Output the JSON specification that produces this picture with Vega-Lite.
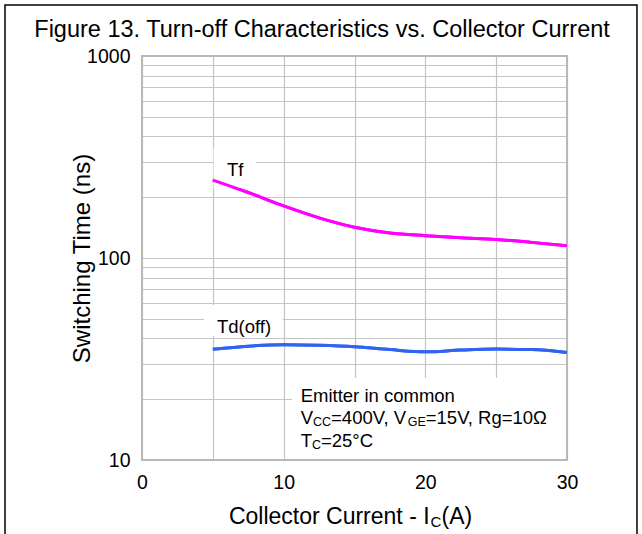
{
  "$schema": "https://vega.github.io/schema/vega-lite/v6.json",
  "width": 425,
  "height": 404,
  "autosize": {"type": "none"},
  "padding": {"left": 142, "top": 56, "right": 75, "bottom": 74},
  "background": "white",
  "config": {"view": {"stroke": null}, "font": "Liberation Sans"},
  "data": {"values": [{}]},
  "datasets": {
    "curves": [
      {"series": "Tf", "ic": 5, "t": 243},
      {"series": "Tf", "ic": 7.5, "t": 211},
      {"series": "Tf", "ic": 10, "t": 181},
      {"series": "Tf", "ic": 12.5, "t": 158},
      {"series": "Tf", "ic": 15, "t": 142},
      {"series": "Tf", "ic": 17.5, "t": 133},
      {"series": "Tf", "ic": 20, "t": 129},
      {"series": "Tf", "ic": 22.5, "t": 126},
      {"series": "Tf", "ic": 25, "t": 123.5},
      {"series": "Tf", "ic": 27.5, "t": 119.5},
      {"series": "Tf", "ic": 30, "t": 115},
      {"series": "Td(off)", "ic": 5, "t": 35.3},
      {"series": "Td(off)", "ic": 7.5, "t": 36.6},
      {"series": "Td(off)", "ic": 10, "t": 37.2},
      {"series": "Td(off)", "ic": 12.5, "t": 37.0},
      {"series": "Td(off)", "ic": 15, "t": 36.4},
      {"series": "Td(off)", "ic": 17.5, "t": 35.2},
      {"series": "Td(off)", "ic": 20, "t": 34.3},
      {"series": "Td(off)", "ic": 22.5, "t": 35.0},
      {"series": "Td(off)", "ic": 25, "t": 35.4},
      {"series": "Td(off)", "ic": 27.5, "t": 35.2},
      {"series": "Td(off)", "ic": 30, "t": 34.1}
    ]
  },
  "layer": [
    {
      "data": {"name": "curves"},
      "mark": {"type": "line", "interpolate": "monotone", "strokeWidth": 3},
      "encoding": {
        "x": {
          "field": "ic", "type": "quantitative",
          "scale": {"domain": [0, 30], "nice": false, "zero": false},
          "axis": {
            "title": null,
            "values": [0, 5, 10, 15, 20, 25, 30],
            "labelExpr": "datum.value % 10 === 0 ? datum.label : ''",
            "grid": true, "gridColor": "#c4c4c4", "gridWidth": 1.2,
            "domain": false, "ticks": false, "tickSize": 0,
            "labelFont": "Liberation Sans", "labelFontSize": 19.5, "labelColor": "black",
            "labelPadding": 13, "labelFlush": false, "labelOverlap": false
          }
        },
        "y": {
          "field": "t", "type": "quantitative",
          "scale": {"type": "log", "domain": [10, 1000], "nice": false},
          "axis": {
            "title": "Switching Time (ns)",
            "titleFont": "Liberation Sans", "titleFontSize": 24, "titleFontWeight": "normal", "titleColor": "black",
            "titlePadding": -8,
            "values": [10, 20, 30, 40, 50, 60, 70, 80, 90, 100, 200, 300, 400, 500, 600, 700, 800, 900, 1000],
            "labelExpr": "(datum.value == 10 || datum.value == 100 || datum.value == 1000) ? '' + datum.value : ''",
            "grid": true, "gridColor": "#c4c4c4", "gridWidth": 1.2,
            "domain": false, "ticks": false, "tickSize": 0,
            "labelFont": "Liberation Sans", "labelFontSize": 19.5, "labelColor": "black",
            "labelPadding": 12, "labelFlush": false, "labelOverlap": false
          }
        },
        "color": {
          "field": "series", "type": "nominal",
          "scale": {"domain": ["Tf", "Td(off)"], "range": ["#ff00ff", "#2f64f2"]},
          "legend": null
        }
      }
    },
    {
      "mark": {"type": "rect", "fill": "white"},
      "encoding": {
        "x": {"datum": 5.05, "type": "quantitative"},
        "x2": {"datum": 8.05},
        "y": {"datum": 222, "type": "quantitative"},
        "y2": {"datum": 350}
      }
    },
    {
      "mark": {"type": "rect", "fill": "white"},
      "encoding": {
        "x": {"datum": 4.38, "type": "quantitative"},
        "x2": {"datum": 9.93},
        "y": {"datum": 41.1, "type": "quantitative"},
        "y2": {"datum": 58.5}
      }
    },
    {
      "mark": {"type": "rect", "fill": "white"},
      "encoding": {
        "x": {"datum": 10.59, "type": "quantitative"},
        "x2": {"datum": 30},
        "y": {"datum": 10, "type": "quantitative"},
        "y2": {"datum": 25.5}
      }
    },
    {
      "mark": {"type": "rect", "filled": false, "stroke": "#b8b8b8", "strokeWidth": 2},
      "encoding": {
        "x": {"datum": 0, "type": "quantitative"},
        "x2": {"datum": 30},
        "y": {"datum": 10, "type": "quantitative"},
        "y2": {"datum": 1000}
      }
    },
    {
      "data": {"name": "curves"},
      "mark": {"type": "line", "interpolate": "monotone", "strokeWidth": 3},
      "encoding": {
        "x": {"field": "ic", "type": "quantitative"},
        "y": {"field": "t", "type": "quantitative"},
        "color": {"field": "series", "type": "nominal", "legend": null}
      }
    },
    {
      "mark": {"type": "text", "text": "Figure 13. Turn-off Characteristics vs. Collector Current", "align": "center", "baseline": "alphabetic", "fontSize": 23.5, "color": "black"},
      "encoding": {"x": {"datum": 12.71, "type": "quantitative"}, "y": {"datum": 1241.7, "type": "quantitative"}}
    },
    {
      "mark": {"type": "text", "text": "Tf", "align": "left", "baseline": "alphabetic", "fontSize": 18.5, "color": "black"},
      "encoding": {"x": {"datum": 6.0, "type": "quantitative"}, "y": {"datum": 254.6, "type": "quantitative"}}
    },
    {
      "mark": {"type": "text", "text": "Td(off)", "align": "left", "baseline": "alphabetic", "fontSize": 18.5, "color": "black"},
      "encoding": {"x": {"datum": 5.29, "type": "quantitative"}, "y": {"datum": 42.5, "type": "quantitative"}}
    },
    {
      "mark": {"type": "text", "text": "Emitter in common", "align": "left", "baseline": "alphabetic", "fontSize": 18.5, "color": "black"},
      "encoding": {"x": {"datum": 11.2, "type": "quantitative"}, "y": {"datum": 19.44, "type": "quantitative"}}
    },
    {
      "mark": {"type": "text", "text": "V", "align": "left", "baseline": "alphabetic", "fontSize": 18.5, "color": "black"},
      "encoding": {"x": {"datum": 11.2, "type": "quantitative"}, "y": {"datum": 15.02, "type": "quantitative"}}
    },
    {
      "mark": {"type": "text", "text": "CC", "align": "left", "baseline": "alphabetic", "fontSize": 12.5, "dx": 12.3, "dy": 2, "color": "black"},
      "encoding": {"x": {"datum": 11.2, "type": "quantitative"}, "y": {"datum": 15.02, "type": "quantitative"}}
    },
    {
      "mark": {"type": "text", "text": "=400V, V", "align": "left", "baseline": "alphabetic", "fontSize": 18.5, "dx": 30.4, "color": "black"},
      "encoding": {"x": {"datum": 11.2, "type": "quantitative"}, "y": {"datum": 15.02, "type": "quantitative"}}
    },
    {
      "mark": {"type": "text", "text": "GE", "align": "left", "baseline": "alphabetic", "fontSize": 12.5, "dx": 107.0, "dy": 2, "color": "black"},
      "encoding": {"x": {"datum": 11.2, "type": "quantitative"}, "y": {"datum": 15.02, "type": "quantitative"}}
    },
    {
      "mark": {"type": "text", "text": "=15V, Rg=10Ω", "align": "left", "baseline": "alphabetic", "fontSize": 18.5, "dx": 125.1, "color": "black"},
      "encoding": {"x": {"datum": 11.2, "type": "quantitative"}, "y": {"datum": 15.02, "type": "quantitative"}}
    },
    {
      "mark": {"type": "text", "text": "T", "align": "left", "baseline": "alphabetic", "fontSize": 18.5, "color": "black"},
      "encoding": {"x": {"datum": 11.2, "type": "quantitative"}, "y": {"datum": 11.64, "type": "quantitative"}}
    },
    {
      "mark": {"type": "text", "text": "C", "align": "left", "baseline": "alphabetic", "fontSize": 12.5, "dx": 11.3, "dy": 2, "color": "black"},
      "encoding": {"x": {"datum": 11.2, "type": "quantitative"}, "y": {"datum": 11.64, "type": "quantitative"}}
    },
    {
      "mark": {"type": "text", "text": "=25°C", "align": "left", "baseline": "alphabetic", "fontSize": 18.5, "dx": 20.3, "color": "black"},
      "encoding": {"x": {"datum": 11.2, "type": "quantitative"}, "y": {"datum": 11.64, "type": "quantitative"}}
    },
    {
      "mark": {"type": "text", "text": "Collector Current - I", "align": "right", "baseline": "alphabetic", "fontSize": 23, "color": "black"},
      "encoding": {"x": {"datum": 20.3, "type": "quantitative"}, "y": {"datum": 4.82, "type": "quantitative"}}
    },
    {
      "mark": {"type": "text", "text": "C", "align": "left", "baseline": "alphabetic", "fontSize": 15, "dx": 1, "dy": 3, "color": "black"},
      "encoding": {"x": {"datum": 20.3, "type": "quantitative"}, "y": {"datum": 4.82, "type": "quantitative"}}
    },
    {
      "mark": {"type": "text", "text": "(A)", "align": "left", "baseline": "alphabetic", "fontSize": 23, "dx": 12, "color": "black"},
      "encoding": {"x": {"datum": 20.3, "type": "quantitative"}, "y": {"datum": 4.82, "type": "quantitative"}}
    },
    {
      "mark": {"type": "rect", "filled": false, "stroke": "black", "strokeWidth": 1.5},
      "encoding": {
        "x": {"datum": -9.671, "type": "quantitative"},
        "x2": {"datum": 34.94},
        "y": {"datum": 1788.6, "type": "quantitative"},
        "y2": {"datum": 4.02}
      }
    }
  ]
}
